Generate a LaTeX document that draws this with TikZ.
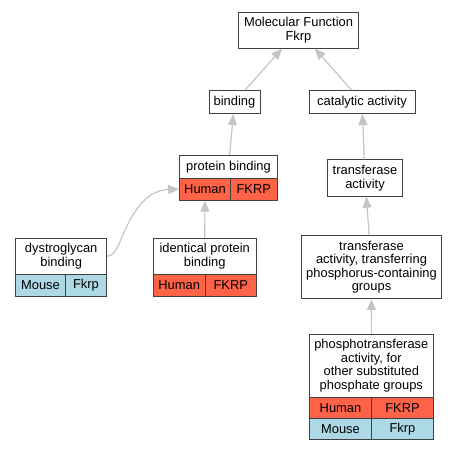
\documentclass[tikz,border=0pt]{standalone}
\usepackage{fontspec}
\setmainfont{Liberation Sans}
\usetikzlibrary{arrows.meta}
\definecolor{human}{HTML}{FF6347}
\definecolor{mouse}{HTML}{ADD8E6}
\definecolor{rim}{HTML}{404040}
\definecolor{link}{HTML}{C4C4C4}
\begin{document}
\begin{tikzpicture}[x=1pt,y=-1pt,
    term/.style={draw=rim, line width=1pt, fill=white, inner sep=0pt, align=center,
        font=\fontsize{12.9}{13.4}\selectfont},
    hum/.style={term, fill=human},
    mou/.style={term, fill=mouse},
    isa/.style={draw=link, line width=1.2pt, -{Triangle[length=11pt,width=9pt]}}
]
            \useasboundingbox (0,0) rectangle (456,451);
            \node[term, minimum width=120.5pt, minimum height=36pt] (mf) at (298.5,30) {Molecular Function\\Fkrp};
            \node[term, minimum width=51pt, minimum height=23pt] (bind) at (234.5,102) {binding};
            \node[term, minimum width=106pt, minimum height=23pt] (cat) at (362,102) {catalytic activity};
            \node[term, minimum width=97.6pt, minimum height=23pt] (pb) at (228.5,166.8) {protein binding};
            \node[hum, minimum width=50.6pt, minimum height=22pt] (pbh) at (205,189.2) {Human};
            \node[hum, minimum width=47pt, minimum height=22pt] (pbg) at (253.8,189.2) {FKRP};
            \node[term, minimum width=75.7pt, minimum height=36.3pt] (ta) at (365,178) {transferase\\activity};
            \node[term, minimum width=91pt, minimum height=36pt] (dg) at (61.2,256.3) {dystroglycan\\binding};
            \node[mou, minimum width=49.6pt, minimum height=21.7pt] (dgm) at (40.5,285.2) {Mouse};
            \node[mou, minimum width=41.4pt, minimum height=21.7pt] (dgg) at (86,285.2) {Fkrp};
            \node[term, minimum width=103.3pt, minimum height=36pt] (ipb) at (204.7,256.3) {identical protein\\binding};
            \node[hum, minimum width=52.3pt, minimum height=21.7pt] (ipbh) at (179.2,285.2) {Human};
            \node[hum, minimum width=51pt, minimum height=21.7pt] (ipbg) at (230.8,285.2) {FKRP};
            \node[term, minimum width=140.4pt, minimum height=63pt] (ttr) at (371.5,267.2) {transferase\\activity, transferring\\phosphorus-containing\\groups};
            \node[term, minimum width=124pt, minimum height=62.7pt] (pta) at (371.3,365.7) {phosphotransferase\\activity, for\\other substituted\\phosphate groups};
            \node[hum, minimum width=62.4pt, minimum height=21.7pt] (ptah) at (340.5,408) {Human};
            \node[hum, minimum width=61.6pt, minimum height=21.7pt] (ptag) at (402.5,408) {FKRP};
            \node[mou, minimum width=62.4pt, minimum height=21.3pt] (ptam) at (340.5,429.3) {Mouse};
            \node[mou, minimum width=61.6pt, minimum height=21.3pt] (ptaf) at (402.5,429.3) {Fkrp};
            \draw[isa] (bind) -- (mf);
            \draw[isa] (cat) -- (mf);
            \draw[isa] (pb) -- (bind);
            \draw[isa] (ta) -- (cat);
            \draw[isa] (ipb) -- (pbh);
            \draw[isa] (ttr) -- (ta);
            \draw[isa] (pta) -- (ttr);
            \draw[isa] (dg.east) .. controls (117,255) and (119,242) .. (126,228) .. controls (138,202) and (152,190) .. (pbh.west);
        \end{tikzpicture}
\end{document}
